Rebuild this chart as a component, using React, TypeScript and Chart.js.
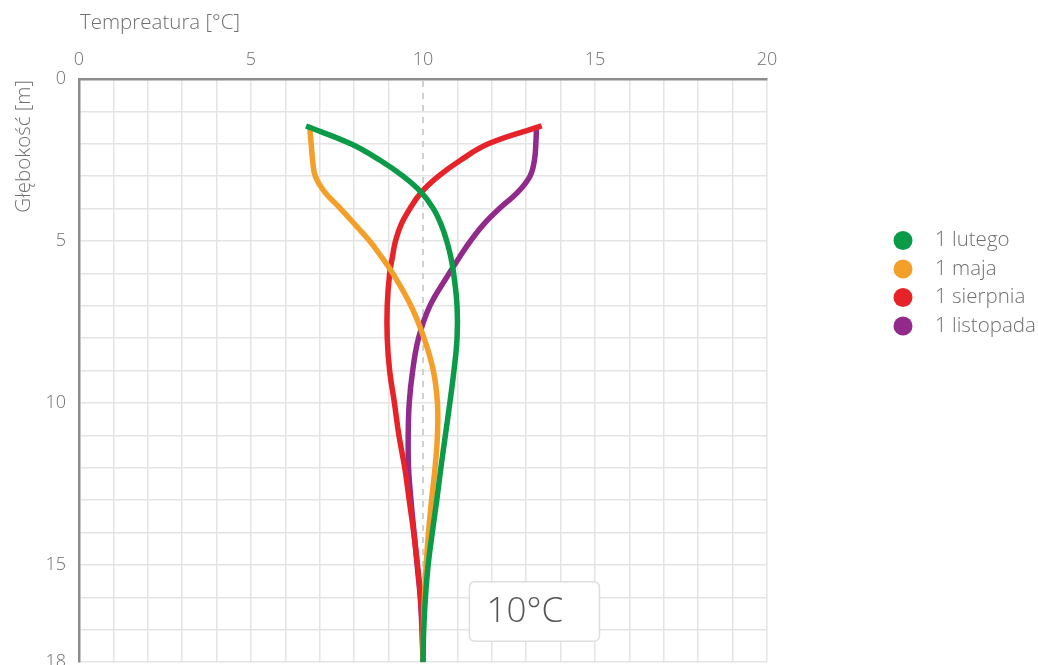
import React, { useEffect, useRef } from "react";
import { Chart, registerables } from "chart.js";

Chart.register(...registerables);

// ---- data ----
const depths = [1.45, 2, 2.5, 3, 3.5, 4, 4.5, 5, 5.5, 6, 7, 8, 9, 10, 11, 12, 13, 14, 15, 16, 17, 18];
const lutego = [6.6, 7.9, 8.74, 9.42, 9.95, 10.3, 10.53, 10.69, 10.81, 10.89, 10.99, 10.99, 10.9, 10.78, 10.65, 10.52, 10.4, 10.27, 10.15, 10.07, 10.02, 10.0];
const maja = [6.7, 6.75, 6.79, 6.87, 7.15, 7.6, 8.03, 8.45, 8.8, 9.12, 9.65, 10.03, 10.3, 10.42, 10.42, 10.35, 10.25, 10.16, 10.09, 10.04, 10.01, 10.0];
const sierpnia = [13.45, 11.9, 11.1, 10.45, 9.95, 9.62, 9.36, 9.2, 9.11, 9.03, 8.96, 8.96, 9.03, 9.17, 9.3, 9.47, 9.6, 9.73, 9.84, 9.93, 9.98, 10.0];
const listopada = [13.3, 13.28, 13.24, 13.11, 12.75, 12.22, 11.75, 11.38, 11.06, 10.76, 10.2, 9.87, 9.7, 9.6, 9.57, 9.58, 9.65, 9.74, 9.83, 9.92, 9.97, 10.0];

const seriesLabels = ["1 lutego", "1 maja", "1 sierpnia", "1 listopada"];
const seriesValues = [lutego, maja, sierpnia, listopada];
const seriesColors = ["#0b9a48", "#f59f2b", "#e52329", "#922a8b"];

const xTickLabels = [0, 5, 10, 15, 20];
const yTickLabels = [0, 5, 10, 15, 18];
const xTitle = "Tempreatura [°C]";
const yTitle = "Głębokość [m]";
const markerTemp = 10;
const noteText = "10°C";
const noteRange = { x0: 11.35, x1: 15.13, y0: 15.52, y1: 17.35 };

const FONT = '"Open Sans", "DejaVu Sans", sans-serif';
const TEXT = "#6f6f6f";

function roundRect(ctx: CanvasRenderingContext2D, x: number, y: number, w: number, h: number, r: number) {
  ctx.beginPath();
  ctx.moveTo(x + r, y);
  ctx.lineTo(x + w - r, y);
  ctx.quadraticCurveTo(x + w, y, x + w, y + r);
  ctx.lineTo(x + w, y + h - r);
  ctx.quadraticCurveTo(x + w, y + h, x + w - r, y + h);
  ctx.lineTo(x + r, y + h);
  ctx.quadraticCurveTo(x, y + h, x, y + h - r);
  ctx.lineTo(x, y + r);
  ctx.quadraticCurveTo(x, y, x + r, y);
  ctx.closePath();
}

const decor = {
  id: "decor",
  beforeDatasetsDraw(chart: any) {
    const { ctx, chartArea, scales } = chart;
    const px = scales.x.getPixelForValue(markerTemp);
    ctx.save();
    ctx.strokeStyle = "#d0d0d0";
    ctx.lineWidth = 2;
    ctx.setLineDash([6, 6]);
    ctx.beginPath();
    ctx.moveTo(px, chartArea.top + 2);
    ctx.lineTo(px, chartArea.bottom);
    ctx.stroke();
    ctx.restore();
  },
  afterDatasetsDraw(chart: any) {
    const { ctx, chartArea, scales } = chart;
    ctx.save();
    // axis titles
    ctx.fillStyle = TEXT;
    ctx.font = `300 20.5px ${FONT}`;
    ctx.textBaseline = "middle";
    ctx.textAlign = "left";
    ctx.fillText(xTitle, chartArea.left + 1, 23);
    ctx.save();
    ctx.translate(24, chartArea.top + 1);
    ctx.rotate(-Math.PI / 2);
    ctx.textAlign = "right";
    ctx.fillText(yTitle, 0, 0);
    ctx.restore();

    // legend
    const lx = 903;
    const ly = 240.5;
    const step = 28.5;
    chart.data.datasets.forEach((ds: any, i: number) => {
      const cy = ly + i * step;
      ctx.fillStyle = ds.borderColor;
      ctx.beginPath();
      ctx.arc(lx, cy, 9.5, 0, Math.PI * 2);
      ctx.fill();
      ctx.fillStyle = TEXT;
      ctx.font = `300 20.5px ${FONT}`;
      ctx.textAlign = "left";
      ctx.textBaseline = "middle";
      ctx.fillText(ds.label, lx + 32, cy);
    });

    // note box
    const bx0 = scales.x.getPixelForValue(noteRange.x0);
    const bx1 = scales.x.getPixelForValue(noteRange.x1);
    const by0 = scales.y.getPixelForValue(noteRange.y0);
    const by1 = scales.y.getPixelForValue(noteRange.y1);
    roundRect(ctx, bx0, by0, bx1 - bx0, by1 - by0, 6);
    ctx.fillStyle = "#ffffff";
    ctx.fill();
    ctx.strokeStyle = "#dedede";
    ctx.lineWidth = 1.5;
    ctx.stroke();
    ctx.fillStyle = "#555555";
    ctx.font = `300 35px ${FONT}`;
    ctx.textAlign = "left";
    ctx.textBaseline = "middle";
    ctx.fillText(noteText, bx0 + 17, (by0 + by1) / 2 + 1);
    ctx.restore();
  },
};

export default function App() {
  const ref = useRef<HTMLCanvasElement | null>(null);

  useEffect(() => {
    const canvas = ref.current;
    if (!canvas) return;
    const datasets = seriesLabels.map((label, i) => ({
      label,
      data: depths.map((d, j) => ({ x: seriesValues[i][j], y: d })),
      borderColor: seriesColors[i],
      backgroundColor: seriesColors[i],
      borderWidth: 5.5,
      showLine: true,
      pointRadius: 0,
      tension: 0.4,
      fill: false,
    }));
    const chart = new Chart(canvas, {
      type: "scatter",
      data: { datasets },
      plugins: [decor],
      options: {
        responsive: false,
        animation: false,
        devicePixelRatio: 1,
        events: [],
        layout: { padding: { left: 0, top: 0, right: 271, bottom: 12 } },
        plugins: {
          legend: { display: false },
          tooltip: { enabled: false },
          title: { display: false },
        },
        scales: {
          x: {
            type: "linear",
            position: "top",
            min: 0,
            max: 20,
            afterFit: (s: any) => {
              s.height = 79;
            },
            ticks: {
              stepSize: 1,
              autoSkip: false,
              maxRotation: 0,
              padding: 8,
              color: TEXT,
              font: { family: FONT, size: 18, weight: "300" },
              callback: (v: any) => (xTickLabels.includes(Number(v)) ? String(v) : ""),
            },
            grid: {
              drawTicks: false,
              lineWidth: 1.5,
              color: (c: any) => (c.tick && c.tick.value === markerTemp ? "rgba(0,0,0,0)" : "#e4e4e4"),
            },
            border: { display: true, color: "#8c8c8c", width: 2.5 },
          },
          y: {
            type: "linear",
            reverse: true,
            min: 0,
            max: 18,
            afterFit: (s: any) => {
              s.width = 79;
            },
            ticks: {
              stepSize: 1,
              autoSkip: false,
              padding: 13,
              color: TEXT,
              font: { family: FONT, size: 18, weight: "300" },
              callback: (v: any) => (yTickLabels.includes(Number(v)) ? String(v) : ""),
            },
            grid: { drawTicks: false, lineWidth: 1.5, color: "#e4e4e4" },
            border: { display: true, color: "#8c8c8c", width: 2.5 },
          },
        },
      } as any,
    });
    return () => chart.destroy();
  }, []);

  return (
    <div
      style={{
        position: "fixed",
        left: 0,
        top: 0,
        width: 1038,
        height: 665,
        overflow: "hidden",
        background: "#ffffff",
      }}
    >
      <canvas ref={ref} width={1038} height={686} style={{ display: "block", width: 1038, height: 686 }} />
    </div>
  );
}
